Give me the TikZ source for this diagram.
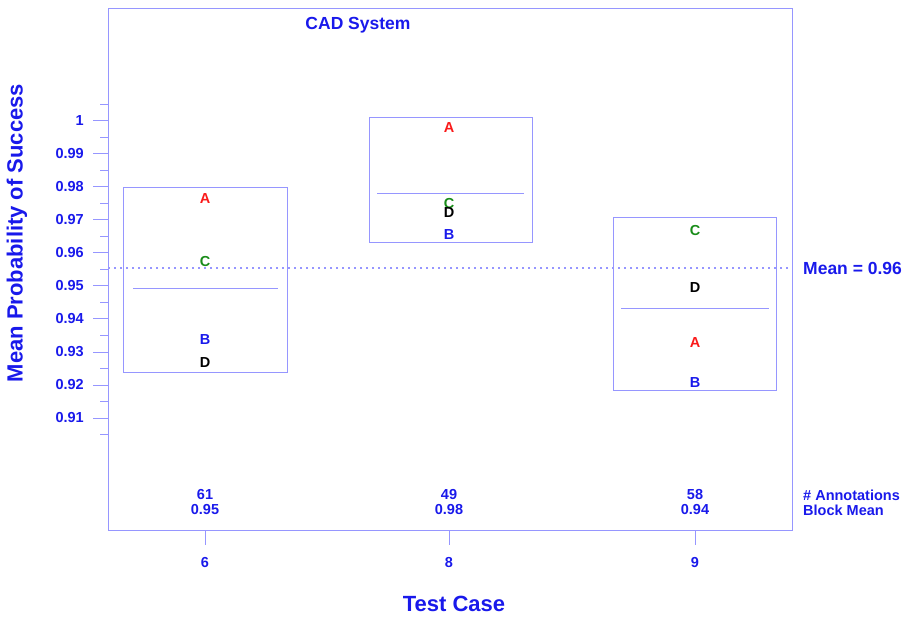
\documentclass[tikz,border=0pt]{standalone}
\usepackage{fontspec}
\setmainfont{Liberation Sans}
\usetikzlibrary{positioning}

\definecolor{plotblue}{RGB}{25,25,235}
\definecolor{frameblue}{RGB}{150,150,255}
\definecolor{ptred}{RGB}{250,25,25}
\definecolor{ptgreen}{RGB}{25,140,25}

\tikzset{
  frameline/.style={draw=frameblue, line width=1pt},
  smalltext/.style={text=plotblue, inner sep=0pt, font=\bfseries\fontsize{14.5}{16}\selectfont},
  bigtext/.style={text=plotblue, inner sep=0pt, font=\bfseries\fontsize{17.5}{20}\selectfont},
  axistitle/.style={text=plotblue, inner sep=0pt, font=\bfseries\fontsize{22}{26}\selectfont},
  ptA/.style={smalltext, text=ptred},
  ptB/.style={smalltext, text=plotblue},
  ptC/.style={smalltext, text=ptgreen},
  ptD/.style={smalltext, text=black}
}

\begin{document}
\begin{tikzpicture}[x=1pt, y=-1pt]
  \useasboundingbox (0,0) rectangle (907,617);

  % Plot frame
  \draw[frameline] (108,9) rectangle (792,530);

  % Y axis ticks and labels
  \foreach \lab [count=\k from 0] in {1,0.99,0.98,0.97,0.96,0.95,0.94,0.93,0.92,0.91} {
    \draw[frameline] (93,121+33*\k) -- (108,121+33*\k);
    \node[smalltext, anchor=east] (ytick\k) at (84,121+33*\k) {\lab};
  }
  \foreach \k in {0,...,10}
    \draw[frameline] (100,104.5+33*\k) -- (108,104.5+33*\k);

  % Boxes for the test cases
  \draw[frameline] (123,188) rectangle (287,372);
  \draw[frameline] (133,289) -- (278,289);
  \draw[frameline] (369,118) rectangle (532,243);
  \draw[frameline] (377,194) -- (524,194);
  \draw[frameline] (613,218) rectangle (776,390);
  \draw[frameline] (621,309) -- (769,309);

  % Grand mean
  \draw[frameline, line width=1.3pt, dash pattern=on 2.2pt off 3.8pt] (108,268) -- (792,268);
  \node[bigtext, anchor=west] (meanlab) at (803,268) {Mean = 0.96};

  % Points for case 6
  \node[ptA] (a6) at (205,199) {A};
  \node[ptC] (c6) at (205,262) {C};
  \node[ptB] (b6) at (205,340) {B};
  \node[ptD] (d6) at (205,363) {D};

  % Points for case 8
  \node[ptA] (a8) at (449,128) {A};
  \node[ptC] (c8) at (449,204) {C};
  \node[ptD] (d8) at (449,213) {D};
  \node[ptB] (b8) at (449,235) {B};

  % Points for case 9
  \node[ptC] (c9) at (695,231) {C};
  \node[ptD] (d9) at (695,288) {D};
  \node[ptA] (a9) at (695,343) {A};
  \node[ptB] (b9) at (695,383) {B};

  % Counts and block means
  \node[smalltext] (n6) at (205,495) {61};
  \node[smalltext] (m6) at (205,510) {0.95};
  \node[smalltext] (n8) at (449,495) {49};
  \node[smalltext] (m8) at (449,510) {0.98};
  \node[smalltext] (n9) at (695,495) {58};
  \node[smalltext] (m9) at (695,510) {0.94};
  \node[smalltext, anchor=west] (nlab) at (803,495) {\# Annotations};
  \node[smalltext, anchor=west] (mlab) at (803,510) {Block Mean};

  % X axis ticks and labels
  \foreach \x/\lab in {205/6, 449/8, 695/9} {
    \draw[frameline] (\x,530) -- (\x,545);
    \node[smalltext] (xtick\lab) at (\x,563) {\lab};
  }

  % Titles
  \node[bigtext] (title) at (358,25) {CAD System};
  \node[axistitle] (xtitle) at (454,604) {Test Case};
  \node[axistitle, rotate=90] (ytitle) at (17,233) {Mean Probability of Success};

\end{tikzpicture}
\end{document}
